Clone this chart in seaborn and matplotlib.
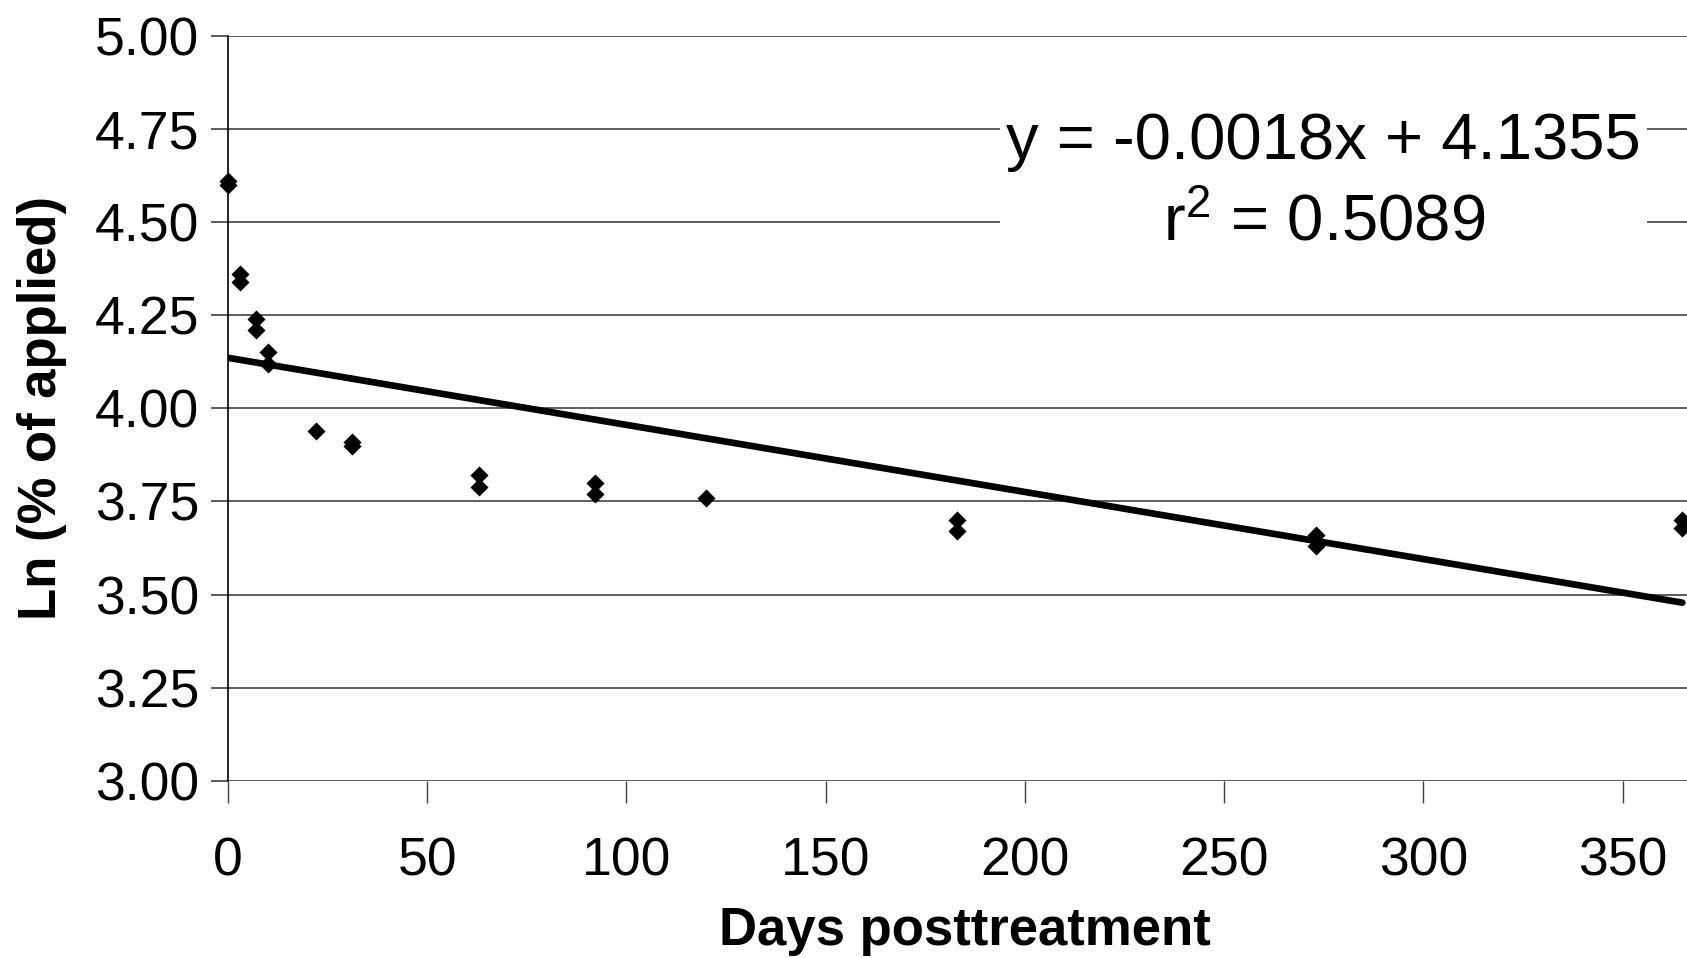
import numpy as np
import pandas as pd
import matplotlib
matplotlib.use('Agg')
import matplotlib.pyplot as plt
import seaborn as sns

# Valores (dias após o tratamento, ln da % aplicada)
days = [0, 0, 3, 3, 7, 7, 10, 10, 22, 31, 31, 63, 63, 92, 92, 120,
        183, 183, 273, 273, 365, 365]
ln_applied = [4.60, 4.61, 4.36, 4.34, 4.24, 4.21, 4.15, 4.12, 3.94, 3.91,
              3.90, 3.82, 3.79, 3.80, 3.77, 3.76, 3.70, 3.67, 3.66, 3.63,
              3.70, 3.68]

# Reta de regressão mostrada no gráfico
slope = -0.0018
intercept = 4.1355
r_squared = 0.5089
fit_days = [0, 365]

x_ticks = [0, 50, 100, 150, 200, 250, 300, 350]
y_ticks = [3.00, 3.25, 3.50, 3.75, 4.00, 4.25, 4.50, 4.75, 5.00]

df = pd.DataFrame({'Days': days, 'Ln': ln_applied})
df_fit = pd.DataFrame({'Days': fit_days,
                       'Ln': [intercept + slope * d for d in fit_days]})

sns.set_style('white')
plt.rcParams['font.family'] = ['Liberation Sans', 'DejaVu Sans']
plt.rcParams['text.color'] = 'black'
plt.rcParams['axes.labelcolor'] = 'black'
plt.rcParams['xtick.color'] = 'black'
plt.rcParams['ytick.color'] = 'black'

fig = plt.figure(figsize=(16.87, 9.58), dpi=100)
ax = fig.add_axes([0.1352, 0.1848, 0.8738, 0.778])

ax.yaxis.grid(True, color='#505050', linewidth=1.3)
ax.set_axisbelow(True)

sns.lineplot(x='Days', y='Ln', data=df_fit, color='black', linewidth=4.8, ax=ax, zorder=3)
sns.scatterplot(x='Days', y='Ln', data=df, marker='D', s=85, color='black',
                linewidth=0, ax=ax, zorder=4, clip_on=False)

ax.set_xlim(0, 370)
ax.set_ylim(3, 5)
ax.set_xticks(x_ticks)
ax.set_yticks(y_ticks)
ax.set_yticklabels([f'{v:.2f}' for v in y_ticks])

for s in ['top', 'right', 'bottom']:
    ax.spines[s].set_visible(False)
ax.spines['left'].set_color('black')
ax.spines['left'].set_linewidth(1.2)

ax.tick_params(axis='x', direction='out', length=16, width=1.0, color='#404040',
               pad=24, labelsize=38.5, bottom=True)
ax.tick_params(axis='y', direction='out', length=12, width=1.2, color='#404040',
               pad=9, labelsize=38.5, left=True)

ax.set_xlabel('Days posttreatment', fontsize=38, fontweight='bold', labelpad=14)
ax.set_ylabel('Ln (% of applied)', fontsize=38, fontweight='bold')
ax.yaxis.set_label_coords(-0.109, 0.5)

ax.text(275, 4.605, 'y = -0.0018x + 4.1355\n$\\mathregular{r^{2}}$ = 0.5089',
        fontsize=47, ha='center', va='center', multialignment='center',
        linespacing=1.45, zorder=5,
        bbox=dict(facecolor='white', edgecolor='none', pad=4))

fig.savefig('out.png', dpi=100)
